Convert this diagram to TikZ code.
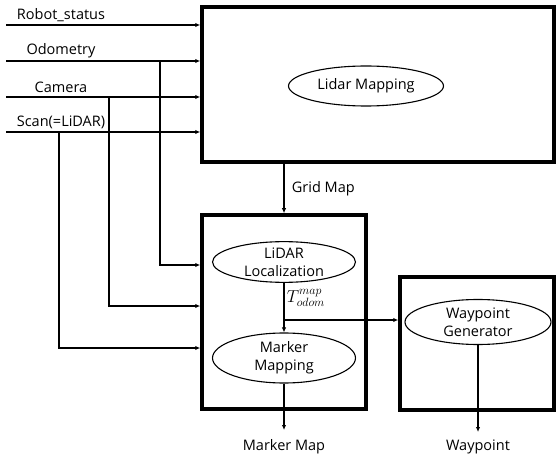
\documentclass[tikz,border=0pt]{standalone}
\usepackage{fontspec}
\setmainfont{Open Sans}
\usetikzlibrary{shapes.geometric,arrows.meta}
\begin{document}
\begin{tikzpicture}
[x=1pt,y=-1pt,font=\fontsize{14.5}{18}\selectfont,
  boxdecorate/.style={shape=rectangle,draw,line width=3.5pt,inner sep=0pt},%
  blockdecorate/.style={shape=ellipse,draw,line width=1.1pt,inner sep=0pt,align=center},%
  linedecorate/.style={-{Latex[length=5pt,width=4.5pt]},line width=1.1pt}]
\useasboundingbox (0,0) rectangle (557,457);
%% blocks
\node (topbox) at (378,84.5) [boxdecorate,minimum width=352pt,minimum height=155pt] {};
\node (midbox) at (284,312) [boxdecorate,minimum width=164pt,minimum height=194pt] {};
\node (wpbox) at (477,343.5) [boxdecorate,minimum width=154pt,minimum height=133pt] {};
%% ellipses inside the blocks
\node (lidmap) at (366,86) [blockdecorate,minimum width=155pt,minimum height=40pt] {Lidar Mapping};
\node (lidloc) at (284,262) [blockdecorate,minimum width=143pt,minimum height=40pt] {LiDAR\\Localization};
\node (markmap) at (284,358) [blockdecorate,minimum width=143pt,minimum height=50pt] {Marker\\Mapping};
\node (wpgen) at (478,322) [blockdecorate,minimum width=146pt,minimum height=45pt] {Waypoint\\Generator};
%% sensor inputs
\foreach \nodename/\txt/\y in {robot/Robot\_status/25, odom/Odometry/61, cam/Camera/97, scan/Scan(=LiDAR)/132} {
  \coordinate (\nodename) at (6,\y);
  \node (\nodename txt) at (61,\y-10) [] {\txt};
  \draw[linedecorate] (\nodename) -- (\nodename -| topbox.west);
}
%% branches down to the localization block
\foreach \nodename/\x/\y in {odom/160/265, cam/109/306, scan/59/348} {
  \coordinate (\nodename drop) at (\x,0);
  \draw[linedecorate] (\nodename drop |- \nodename) |- (midbox.west |- 0,\y);
}
%% edges or lines
\draw[linedecorate] (topbox.south -| midbox.north) -- node[right=4pt] {Grid Map} (midbox.north);
\draw[linedecorate] (lidloc) -- node[right=-1pt,pos=0.3,font=\fontsize{17}{20}\selectfont] {$T_{odom}^{map}$} (markmap);
\coordinate (branch) at (284,320);
\draw[linedecorate] (branch) -- (branch -| wpbox.west);
\coordinate (mapout) at (284,430);
\draw[linedecorate] (markmap) -- (mapout);
\node (mapouttxt) at (284,447) [] {Marker Map};
\coordinate (wpout) at (478,432);
\draw[linedecorate] (wpgen) -- (wpout);
\node (wpouttxt) at (478,447) [] {Waypoint};
\end{tikzpicture}
\end{document}
